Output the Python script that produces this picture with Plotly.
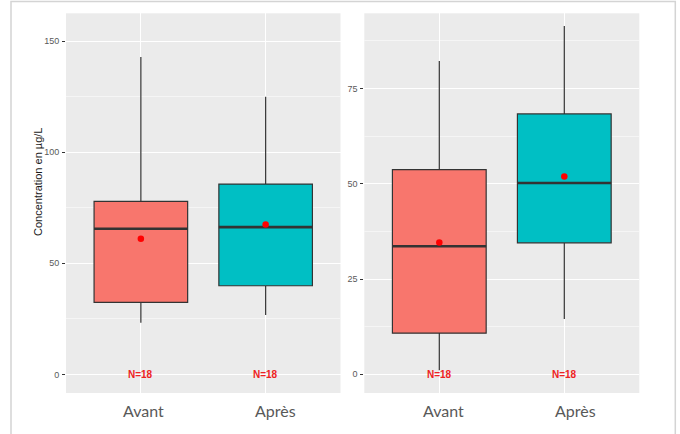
import plotly.graph_objects as go

W, H = 680, 434

# Groups
categories = ["Avant", "Après"]
fill_colors = ["#F8766D", "#00BFC4"]
n_labels = ["N=18", "N=18"]

# Left panel summary statistics (µg/L)
left_lower = [23.2, 26.7]
left_q1 = [32.4, 39.9]
left_median = [65.6, 66.3]
left_q3 = [77.9, 85.7]
left_upper = [142.9, 125.0]
left_mean = [61.1, 67.5]

# Right panel summary statistics (µg/L)
right_lower = [1.1, 14.5]
right_q1 = [10.8, 34.5]
right_median = [33.6, 50.2]
right_q3 = [53.7, 68.3]
right_upper = [82.2, 91.4]
right_mean = [34.6, 51.9]

left_ticks = [0, 50, 100, 150]
right_ticks = [0, 25, 50, 75]


def px(x):
    return x / W


def py(y):
    return 1 - y / H


BOX_W = 0.75
fig = go.Figure()


def add_panel(xa, ya, lower, q1, med, q3, upper, mean):
    for i, cat in enumerate(categories):
        pos = i + 1
        fig.add_trace(go.Box(
            x=[pos], q1=[q1[i]], median=[med[i]], q3=[q3[i]],
            lowerfence=[lower[i]], upperfence=[upper[i]],
            width=BOX_W, whiskerwidth=0,
            fillcolor=fill_colors[i],
            line=dict(color="#333333", width=1.2),
            xaxis=xa, yaxis=ya, showlegend=False, hoverinfo="skip",
        ))
        # thicker median bar
        fig.add_trace(go.Scatter(
            x=[pos - BOX_W / 2, pos + BOX_W / 2], y=[med[i], med[i]],
            mode="lines", line=dict(color="#333333", width=2.6),
            xaxis=xa, yaxis=ya, showlegend=False, hoverinfo="skip",
        ))
        # mean point
        fig.add_trace(go.Scatter(
            x=[pos], y=[mean[i]], mode="markers",
            marker=dict(color="#FF0000", size=6.5),
            xaxis=xa, yaxis=ya, showlegend=False, hoverinfo="skip",
        ))
        # sample size label at zero
        fig.add_annotation(
            x=pos, y=0, xref=xa, yref=ya, text="<b>" + n_labels[i] + "</b>",
            showarrow=False,
            font=dict(family="Liberation Sans, Arial", size=10, color="#EE2222"),
            xanchor="center", yanchor="middle",
        )


add_panel("x", "y", left_lower, left_q1, left_median, left_q3, left_upper, left_mean)
add_panel("x2", "y2", right_lower, right_q1, right_median, right_q3, right_upper, right_mean)

xaxis_common = dict(
    range=[0.4, 2.6], tickvals=[1, 2], showticklabels=False, ticks="",
    showgrid=True, gridcolor="#FFFFFF", gridwidth=1.1, zeroline=False,
    showline=False, fixedrange=True,
)
yaxis_common = dict(
    showgrid=True, gridcolor="#FFFFFF", gridwidth=1.1, zeroline=False,
    showline=False, ticks="outside", ticklen=3, tickwidth=1, tickcolor="#333333",
    tickfont=dict(family="Liberation Sans, Arial", size=9, color="#595959"),
    ticklabelstandoff=1,
)

y_top, y_bot = 13.3, 393.0
fig.update_layout(
    width=W, height=H,
    margin=dict(l=0, r=0, t=0, b=0),
    paper_bgcolor="#FFFFFF",
    plot_bgcolor="#EBEBEB",
    xaxis=dict(domain=[px(66), px(340.5)], anchor="y", **xaxis_common),
    xaxis2=dict(domain=[px(364.3), px(639.3)], anchor="y2", **xaxis_common),
    yaxis=dict(domain=[py(y_bot), py(y_top)], anchor="x", range=[-8.4, 162.6],
               tickvals=left_ticks, ticktext=[str(t) for t in left_ticks],
               minor=dict(tickvals=[25, 75, 125], showgrid=True,
                          gridcolor="#F5F5F5", gridwidth=0.6, ticks=""),
               **yaxis_common),
    yaxis2=dict(domain=[py(y_bot), py(y_top)], anchor="x2", range=[-4.9, 94.7],
                tickvals=right_ticks, ticktext=[str(t) for t in right_ticks],
                minor=dict(tickvals=[12.5, 37.5, 62.5, 87.5], showgrid=True,
                           gridcolor="#F5F5F5", gridwidth=0.6, ticks=""),
                **yaxis_common),
)

# Category labels under each panel
label_font = dict(family="Lato, Open Sans", size=16, color="#595959")
for xa, offs in (("x", [0.02, 0.08]), ("x2", [0.03, 0.09])):
    for i, cat in enumerate(categories):
        fig.add_annotation(
            x=i + 1 + offs[i], y=py(410), xref=xa, yref="paper", text=cat,
            showarrow=False, font=label_font, xanchor="center", yanchor="middle",
        )

# Y-axis title
fig.add_annotation(
    x=px(38), y=py(182), xref="paper", yref="paper",
    text="Concentration en µg/L", textangle=-90, showarrow=False,
    font=dict(family="Liberation Sans, Arial", size=11, color="#1A1A1A"),
    xanchor="center", yanchor="middle",
)

# Outer frame
fig.add_shape(
    type="rect", xref="paper", yref="paper",
    x0=px(11), x1=px(675.3), y0=-0.05, y1=py(1.5),
    line=dict(color="#D4D4D4", width=1.5), fillcolor="rgba(0,0,0,0)",
    layer="above",
)

fig.write_html("out.html")
